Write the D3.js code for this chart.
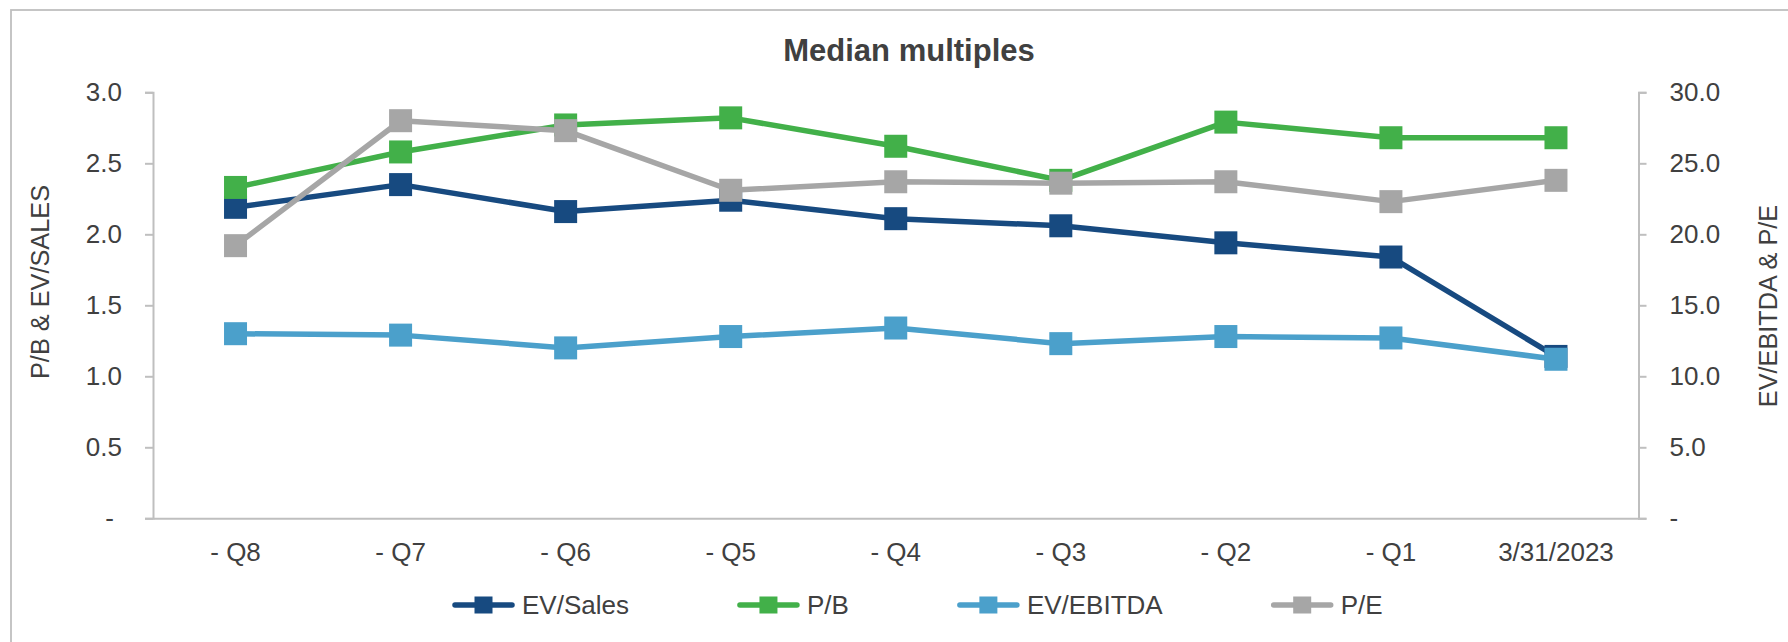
<!DOCTYPE html>
<html>
<head>
<meta charset="utf-8">
<script src="https://cdn.jsdelivr.net/npm/d3@7"></script>
<style>
  html, body { margin: 0; padding: 0; background: #fff; }
  svg { display: block; font-family: "Liberation Sans", Arial, sans-serif; }
</style>
</head>
<body>
<svg id="chart" width="1788" height="642"></svg>
<script>
const categories = ["- Q8", "- Q7", "- Q6", "- Q5", "- Q4", "- Q3", "- Q2", "- Q1", "3/31/2023"];
const evSales  = [2.19, 2.35, 2.16, 2.24, 2.11, 2.06, 1.94, 1.84, 1.14];
const pb       = [2.33, 2.58, 2.77, 2.82, 2.62, 2.38, 2.79, 2.68, 2.68];
const evEbitda = [13.0, 12.9, 12.0, 12.8, 13.4, 12.3, 12.8, 12.7, 11.2];
const pe       = [19.2, 28.0, 27.3, 23.1, 23.7, 23.6, 23.7, 22.3, 23.8];
const leftTicks  = [0, 0.5, 1.0, 1.5, 2.0, 2.5, 3.0];
const rightTicks = [0, 5, 10, 15, 20, 25, 30];
const seriesNames = ["EV/Sales", "P/B", "EV/EBITDA", "P/E"];

const colors = {"EV/Sales": "#174a80", "P/B": "#42b049", "EV/EBITDA": "#4ba0cb", "P/E": "#a6a6a6"};
const textColor = "#404040";
const axisColor = "#bfbfbf";

const svg = d3.select("#chart");
const plot = {left: 153, right: 1638.5, top: 92.3, bottom: 518.3};

// outer border (left & top visible)
svg.append("rect").attr("x", 11).attr("y", 10).attr("width", 1800).attr("height", 700)
  .attr("fill", "none").attr("stroke", axisColor).attr("stroke-width", 1.8);

const x = d3.scaleBand().domain(categories).range([plot.left, plot.right]).padding(0);
const cx = d => x(d) + x.bandwidth() / 2;
const yL = d3.scaleLinear().domain([0, 3]).range([plot.bottom, plot.top]);
const yR = d3.scaleLinear().domain([0, 30]).range([plot.bottom, plot.top]);

// title
svg.append("text").attr("x", 909).attr("y", 61).attr("text-anchor", "middle")
  .attr("font-size", 31).attr("font-weight", "bold").attr("fill", textColor)
  .text("Median multiples");

// left axis
const gL = svg.append("g").attr("transform", `translate(${plot.left},0)`)
  .call(d3.axisLeft(yL).tickValues(leftTicks).tickSize(8).tickPadding(23)
    .tickFormat(d => d === 0 ? "-" : d3.format(".1f")(d)));
gL.select(".domain").attr("stroke", axisColor).attr("stroke-width", 2);
gL.selectAll(".tick line").attr("stroke", axisColor).attr("stroke-width", 2);
gL.selectAll(".tick text").attr("fill", textColor).attr("font-size", 26)
  .attr("font-family", "Liberation Sans, Arial, sans-serif")
  .attr("dx", d => d === 0 ? -8 : 0);

// right axis
const gR = svg.append("g").attr("transform", `translate(${plot.right},0)`)
  .call(d3.axisRight(yR).tickValues(rightTicks).tickSize(8).tickPadding(23)
    .tickFormat(d => d === 0 ? "-" : d3.format(".1f")(d)));
gR.select(".domain").attr("stroke", axisColor).attr("stroke-width", 2);
gR.selectAll(".tick line").attr("stroke", axisColor).attr("stroke-width", 2);
gR.selectAll(".tick text").attr("fill", textColor).attr("font-size", 26)
  .attr("font-family", "Liberation Sans, Arial, sans-serif");

// bottom axis
const gB = svg.append("g").attr("transform", `translate(0,${plot.bottom})`)
  .call(d3.axisBottom(x).tickSize(0).tickPadding(24));
gB.select(".domain").attr("stroke", axisColor).attr("stroke-width", 2);
gB.selectAll(".tick text").attr("fill", textColor).attr("font-size", 26)
  .attr("font-family", "Liberation Sans, Arial, sans-serif");

// axis titles
svg.append("text").attr("transform", `translate(49,282) rotate(-90)`)
  .attr("text-anchor", "middle").attr("font-size", 25.3).attr("fill", textColor)
  .text("P/B & EV/SALES");
svg.append("text").attr("transform", `translate(1777,306) rotate(-90)`)
  .attr("text-anchor", "middle").attr("font-size", 25.3).attr("fill", textColor)
  .text("EV/EBITDA & P/E");

// series
const series = [
  {name: "EV/Sales", values: evSales, y: yL},
  {name: "P/B", values: pb, y: yL},
  {name: "EV/EBITDA", values: evEbitda, y: yR},
  {name: "P/E", values: pe, y: yR}
];
const msize = 23;
series.forEach(s => {
  const pts = s.values.map((v, i) => [cx(categories[i]), s.y(v)]);
  const g = svg.append("g");
  g.append("path").attr("d", d3.line()(pts)).attr("fill", "none")
    .attr("stroke", colors[s.name]).attr("stroke-width", 5.5)
    .attr("stroke-linejoin", "round").attr("stroke-linecap", "round");
  g.selectAll("rect").data(pts).join("rect")
    .attr("x", d => d[0] - msize / 2).attr("y", d => d[1] - msize / 2)
    .attr("width", msize).attr("height", msize).attr("fill", colors[s.name]);
});

// legend
const legendY = 605;
let lx = 455;
const lg = svg.append("g");
seriesNames.forEach(name => {
  lg.append("line").attr("x1", lx).attr("x2", lx + 57).attr("y1", legendY).attr("y2", legendY)
    .attr("stroke", colors[name]).attr("stroke-width", 5.5).attr("stroke-linecap", "round");
  lg.append("rect").attr("x", lx + 28.5 - 9).attr("y", legendY - 8.5).attr("width", 18).attr("height", 17)
    .attr("fill", colors[name]);
  const t = lg.append("text").attr("x", lx + 67).attr("y", legendY).attr("dy", "0.35em")
    .attr("font-size", 26).attr("fill", textColor).text(name);
  const w = t.node().getComputedTextLength();
  lx = lx + 67 + w + 111;
});
</script>
</body>
</html>
